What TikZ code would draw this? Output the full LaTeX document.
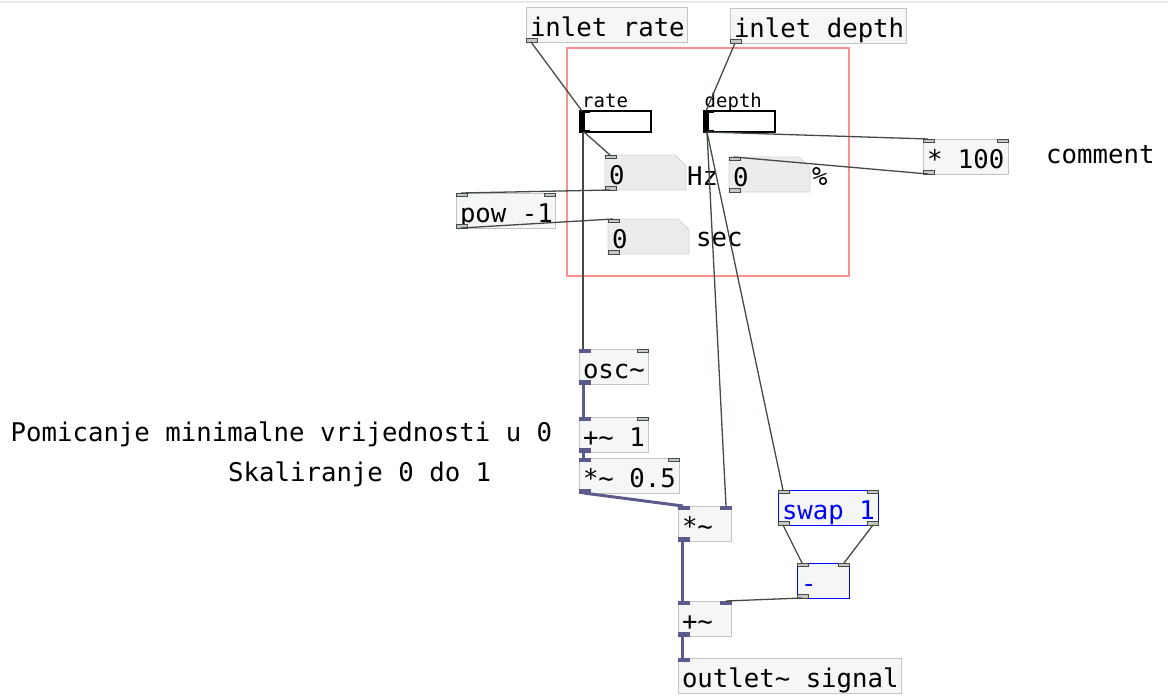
\documentclass[tikz,border=0pt]{standalone}
\usepackage{fontspec}
\setmonofont{DejaVu Sans Mono}
\usetikzlibrary{calc,backgrounds}

\definecolor{wire}{RGB}{66,76,66}
\definecolor{sig}{RGB}{92,92,140}
\definecolor{boxline}{RGB}{196,196,196}
\definecolor{boxfill}{RGB}{245,247,247}
\definecolor{nbfill}{RGB}{236,236,236}
\definecolor{nbline}{RGB}{212,212,212}
\definecolor{gopred}{RGB}{250,145,145}
\definecolor{pdblue}{RGB}{0,0,255}

\tikzset{
  pdtext/.style={font=\ttfamily\fontsize{25.7}{30}\selectfont},
  pdsmall/.style={font=\ttfamily\fontsize{19}{22}\selectfont},
  objw/.code={\pgfmathsetmacro\pdtw{#1-8}%
    \edef\pdtmp{\noexpand\pgfkeysalso{minimum width=#1pt,text width=\pdtw pt}}\pdtmp},
  pdbox/.style={objw=#1, pdtext, draw=boxline, fill=boxfill, line width=0.9pt,
    anchor=north west, inner xsep=4pt, inner ysep=0pt, outer sep=0pt,
    minimum height=35pt, text height=29pt, text depth=6pt,
    execute at begin node={\hbox\bgroup\spaceskip=15.47pt\relax\xspaceskip=15.47pt\relax},
    execute at end node={\egroup}},
  bluebox/.style={pdbox=#1, draw=pdblue, text=pdblue, line width=1pt},
  numbox/.style={pdbox=#1, draw=none, fill=none, inner xsep=3.5pt},
  nbshape/.style={fill=nbfill, draw=nbline, line width=0.8pt},
  pdslider/.style={draw=black, fill=white, line width=1.3pt, minimum width=71pt,
    minimum height=21pt, anchor=north west, inner sep=0pt, outer sep=0pt},
  pdlabel/.style={pdtext, anchor=base west, inner sep=0pt},
  pdsmalllabel/.style={pdsmall, anchor=base west, inner sep=0pt},
  gopframe/.style={draw=gopred, line width=1.4pt, anchor=north west,
    inner sep=0pt, outer sep=0pt},
  nubc/.style={fill=gray!45, draw=wire, line width=0.6pt},
  nubs/.style={fill=sig, draw=sig, line width=0.6pt},
  wire/.style={draw=wire, line width=1.3pt},
  sigwire/.style={draw=sig, line width=3pt},
}

% inlet / outlet nubs at the corners of a box
\newcommand\pdinl[2][nubc]{\filldraw[#1] (#2.north west) rectangle ++(11,3.5);}
\newcommand\pdinr[2][nubc]{\filldraw[#1] ($(#2.north east)+(-11,0)$) rectangle ++(11,3.5);}
\newcommand\pdoutl[2][nubc]{\filldraw[#1] (#2.south west) rectangle ++(11,-3.5);}
\newcommand\pdoutr[2][nubc]{\filldraw[#1] ($(#2.south east)+(-11,0)$) rectangle ++(11,-3.5);}
% number box body with its clipped corner
\newcommand\pdnumshape[1]{\begin{scope}[on background layer]
  \filldraw[nbshape] (#1.north west) -- ($(#1.north east)+(-11,0)$)
    -- ($(#1.north east)+(0,11)$) -- (#1.south east) -- (#1.south west) -- cycle;
  \end{scope}}
% slider handle at the left end
\newcommand\pdknob[1]{%
  \fill ($(#1.north west)+(0,0)$) rectangle ($(#1.south west)+(5,0)$);
  \draw[line width=1.8pt] ($(#1.north west)+(0,1)$) -- ++(10,0);
  \draw[line width=1.8pt] ($(#1.south west)+(0,-1)$) -- ++(10,0);}

\begin{document}
\begin{tikzpicture}[x=1pt,y=-1pt]
\useasboundingbox (0,0) rectangle (1168,696);

% window edge
\draw[gray!18, line width=2pt] (0,2) -- (1168,2);

% graph-on-parent frame
\node[gopframe, minimum width=282pt, minimum height=228pt] (gop) at (567,48) {};

% inlets
\node[pdbox=161] (inRate) at (526,7) {inlet rate};
\node[pdbox=176] (inDepth) at (730,8) {inlet depth};

% sliders
\node[pdslider] (rs) at (580,111) {};
\node[pdslider] (ds) at (704,111) {};
\pdknob{rs}
\pdknob{ds}
\node[pdsmalllabel] (rateLbl) at (582,107) {rate};
\node[pdsmalllabel] (depthLbl) at (704.5,107) {depth};

% number boxes
\node[numbox=81] (hz) at (605,155) {0};
\node[numbox=81] (pct) at (729,157) {0};
\node[numbox=81] (sec) at (608,219) {0};
\pdnumshape{hz}
\pdnumshape{pct}
\pdnumshape{sec}
\node[pdlabel] (hzLbl) at (687,185) {Hz};
\node[pdlabel] (pctLbl) at (812,185) {\%};
\node[pdlabel] (secLbl) at (696,246) {sec};

% control objects
\node[pdbox=99] (pow) at (456,193) {pow -1};
\node[pdbox=85] (t100) at (923,139) {* 100};
\node[pdlabel] (cmt) at (1046,163) {comment};

% signal chain
\node[pdbox=69] (osc) at (579,349) {osc\textasciitilde};
\node[pdbox=69] (plusOne) at (579,417) {+\textasciitilde{} 1};
\node[pdbox=100] (half) at (579,458) {*\textasciitilde{} 0.5};
\node[pdbox=53] (mul) at (678,506) {*\textasciitilde};
\node[bluebox=100] (swap) at (778,490) {swap 1};
\node[bluebox=52] (minus) at (797,563) {-};
\node[pdbox=53] (add) at (678,601) {+\textasciitilde};
\node[pdbox=223] (out) at (678,658) {outlet\textasciitilde{} signal};

% comments
\node[pdlabel] (cmtShift) at (10.5,441) {Pomicanje minimalne vrijednosti u 0};
\node[pdlabel] (cmtScale) at (228,481) {Skaliranje 0 do 1};

% nubs
\pdoutl{inRate}
\pdoutl{inDepth}
\pdinl{hz}\pdoutl{hz}
\pdinl{pct}\pdoutl{pct}
\pdinl{sec}\pdoutl{sec}
\pdinl{pow}\pdinr{pow}\pdoutl{pow}
\pdinl{t100}\pdinr{t100}\pdoutl{t100}
\pdinl[nubs]{osc}\pdinr{osc}\pdoutl[nubs]{osc}
\pdinl[nubs]{plusOne}\pdinr{plusOne}\pdoutl[nubs]{plusOne}
\pdinl[nubs]{half}\pdinr{half}\pdoutl[nubs]{half}
\pdinl[nubs]{mul}\pdinr[nubs]{mul}\pdoutl[nubs]{mul}
\pdinl{swap}\pdinr{swap}\pdoutl{swap}\pdoutr{swap}
\pdinl{minus}\pdinr{minus}\pdoutl{minus}
\pdinl[nubs]{add}\pdinr[nubs]{add}\pdoutl[nubs]{add}
\pdinl[nubs]{out}

% control connections
\draw[wire] ($(inRate.south west)+(5,0)$) -- ($(rs.north west)+(2,0)$);
\draw[wire] ($(rs.south west)+(3,0)$) -- ($(osc.north west)+(4,0)$);
\draw[wire] ($(rs.south west)+(4,0)$) -- ($(hz.north west)+(5,0)$);
\draw[wire] ($(hz.south west)+(5,0)$) -- ($(pow.north west)+(5,0)$);
\draw[wire] ($(pow.south west)+(5,0)$) -- ($(sec.north west)+(5,0)$);
\draw[wire] ($(inDepth.south west)+(5,0)$) -- ($(ds.north west)+(2,0)$);
\draw[wire] ($(ds.south west)+(3,0)$) -- ($(t100.north west)+(5,0)$);
\draw[wire] ($(t100.south west)+(5,0)$) -- ($(pct.north west)+(5,0)$);
\draw[wire] ($(ds.south west)+(3,0)$) -- ($(mul.north east)+(-5,0)$);
\draw[wire] ($(ds.south west)+(3,0)$) -- ($(swap.north west)+(5,0)$);
\draw[wire] ($(swap.south west)+(5,0)$) -- ($(minus.north west)+(5,0)$);
\draw[wire] ($(swap.south east)+(-5,0)$) -- ($(minus.north east)+(-5,0)$);
\draw[wire] ($(minus.south west)+(5,0)$) -- ($(add.north east)+(-5,0)$);

% signal connections
\draw[sigwire] ($(osc.south west)+(4.5,0)$) -- ($(plusOne.north west)+(4.5,0)$);
\draw[sigwire] ($(plusOne.south west)+(4.5,0)$) -- ($(half.north west)+(4.5,0)$);
\draw[sigwire] ($(half.south west)+(4.5,0)$) -- ($(mul.north west)+(5,0)$);
\draw[sigwire] ($(mul.south west)+(4.5,0)$) -- ($(add.north west)+(4.5,0)$);
\draw[sigwire] ($(add.south west)+(4.5,0)$) -- ($(out.north west)+(4.5,0)$);
\end{tikzpicture}
\end{document}
